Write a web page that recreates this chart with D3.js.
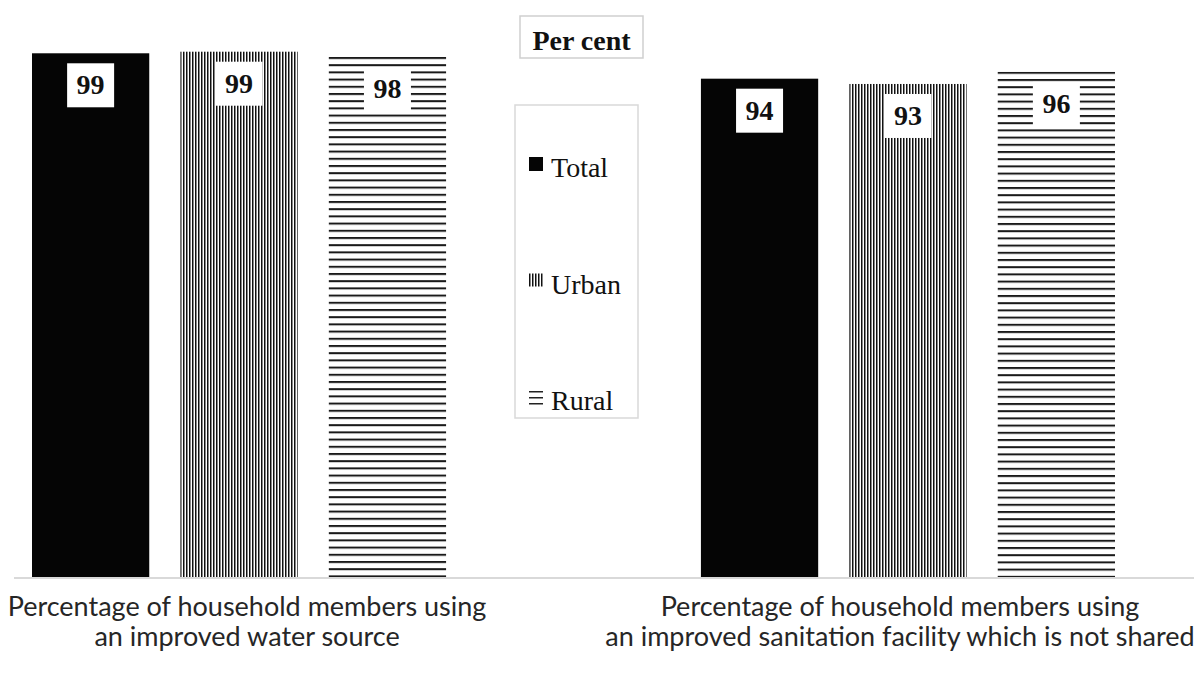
<!DOCTYPE html>
<html>
<head>
<meta charset="utf-8">
<script src="https://cdn.jsdelivr.net/npm/d3@7"></script>
<style>
  html, body { margin: 0; padding: 0; background: #fff; }
  svg { display: block; }
</style>
</head>
<body>
<div id="chart"></div>
<script>
// Data
const categories = ['water', 'sanitation'];
const categoryLabels = [
  ['Percentage of household members using', 'an improved water source'],
  ['Percentage of household members using', 'an improved sanitation facility which is not shared']
];
const series = ['Total', 'Urban', 'Rural'];
const totalValues = [99.0, 94.2];
const urbanValues = [99.3, 93.2];
const ruralValues = [98.3, 95.5];
const unitLabel = 'Per cent';

const width = 1194, height = 674;
const valuesBySeries = { Total: totalValues, Urban: urbanValues, Rural: ruralValues };

const svg = d3.select('#chart').append('svg')
  .attr('width', width)
  .attr('height', height);

const x0 = d3.scaleBand().domain(categories).range([32, 1115]).paddingInner(0.381);
const x1 = d3.scaleBand().domain(series).range([0, x0.bandwidth()]).paddingInner(0.21);
const y = d3.scaleLinear().domain([0, 100]).range([577, 48]);

const defs = svg.append('defs');

// Vertical stripes for Urban
const vPat = defs.append('pattern')
  .attr('id', 'urban')
  .attr('patternUnits', 'userSpaceOnUse')
  .attr('width', 3).attr('height', 10);
vPat.append('rect').attr('width', 3).attr('height', 10).attr('fill', '#fff');
vPat.append('rect').attr('width', 1.5).attr('height', 10).attr('fill', '#111');

// flatten bars
const bars = [];
categories.forEach((c, i) => {
  series.forEach(s => bars.push({ cat: c, series: s, value: valuesBySeries[s][i], idx: i }));
});

// Horizontal stripes for Rural, one per bar so lines start at the top
bars.filter(d => d.series === 'Rural').forEach(d => {
  const p = defs.append('pattern')
    .attr('id', 'rural-' + d.idx)
    .attr('patternUnits', 'userSpaceOnUse')
    .attr('x', 0).attr('y', y(d.value))
    .attr('width', 10).attr('height', 7.2);
  p.append('rect').attr('width', 10).attr('height', 7.2).attr('fill', '#fff');
  p.append('rect').attr('width', 10).attr('height', 2).attr('fill', '#1a1a1a');
});

function fillFor(d) {
  if (d.series === 'Total') return '#050505';
  if (d.series === 'Urban') return 'url(#urban)';
  return 'url(#rural-' + d.idx + ')';
}

// Axis baseline
svg.append('line')
  .attr('x1', 14).attr('x2', width)
  .attr('y1', y(0) + 1).attr('y2', y(0) + 1)
  .attr('stroke', '#d9d9d9')
  .attr('stroke-width', 2);

// Bars
svg.selectAll('.bar')
  .data(bars)
  .enter()
  .append('rect')
  .attr('class', 'bar')
  .attr('x', d => x0(d.cat) + x1(d.series))
  .attr('y', d => y(d.value))
  .attr('width', x1.bandwidth())
  .attr('height', d => y(0) - y(d.value))
  .attr('fill', fillFor);

// Value labels
const labelW = 47, labelH = 44;
const labels = svg.selectAll('.val')
  .data(bars)
  .enter()
  .append('g')
  .attr('class', 'val')
  .attr('transform', d => `translate(${x0(d.cat) + x1(d.series) + x1.bandwidth() / 2},${y(d.value) + 10})`);

labels.append('rect')
  .attr('x', -labelW / 2)
  .attr('width', labelW)
  .attr('height', labelH)
  .attr('fill', '#fff');

labels.append('text')
  .attr('y', 31)
  .attr('text-anchor', 'middle')
  .attr('font-family', '"Liberation Serif", "Times New Roman", serif')
  .attr('font-weight', 'bold')
  .attr('font-size', 28)
  .attr('fill', '#111')
  .text(d => Math.round(d.value));

// Per cent box
svg.append('rect')
  .attr('x', 520).attr('y', 16)
  .attr('width', 123).attr('height', 42)
  .attr('fill', '#fff')
  .attr('stroke', '#cfcfcf')
  .attr('stroke-width', 1.5);
svg.append('text')
  .attr('x', 581.5).attr('y', 50)
  .attr('text-anchor', 'middle')
  .attr('font-family', '"Liberation Serif", "Times New Roman", serif')
  .attr('font-weight', 'bold')
  .attr('font-size', 28)
  .attr('fill', '#111')
  .text(unitLabel);

// Legend
svg.append('rect')
  .attr('x', 515).attr('y', 105)
  .attr('width', 123).attr('height', 313)
  .attr('fill', '#fff')
  .attr('stroke', '#d9d9d9')
  .attr('stroke-width', 1.5);

const legendY = d3.scalePoint().domain(series).range([177, 410]);
const legend = svg.selectAll('.legend')
  .data(series)
  .enter()
  .append('g')
  .attr('class', 'legend')
  .attr('transform', d => `translate(529,${legendY(d)})`);

legend.each(function (s) {
  const g = d3.select(this);
  if (s === 'Total') {
    g.append('rect').attr('x', 0).attr('y', -20).attr('width', 14).attr('height', 14).attr('fill', '#050505');
  } else if (s === 'Urban') {
    g.append('rect').attr('x', 0).attr('y', -20).attr('width', 15).attr('height', 13).attr('fill', 'url(#urban)');
  } else {
    [-19, -13, -7].forEach(off => {
      g.append('rect').attr('x', 0).attr('y', off).attr('width', 14).attr('height', 1.5).attr('fill', '#222');
    });
  }
  g.append('text')
    .attr('x', 22)
    .attr('font-family', '"Liberation Serif", "Times New Roman", serif')
    .attr('font-size', 28)
    .attr('fill', '#111')
    .text(s);
});

// Category labels
const catText = svg.selectAll('.cat')
  .data(categories)
  .enter()
  .append('text')
  .attr('class', 'cat')
  .attr('text-anchor', 'middle')
  .attr('font-family', 'Lato, "Open Sans", sans-serif')
  .attr('font-size', 27)
  .attr('fill', '#262626');

catText.each(function (c, i) {
  const t = d3.select(this);
  const cx = x0(c) + x0.bandwidth() / 2;
  categoryLabels[i].forEach((line, j) => {
    t.append('tspan')
      .attr('x', cx + (i === 0 ? 8 : -8))
      .attr('y', 616 + j * 30)
      .text(line);
  });
});
</script>
</body>
</html>
